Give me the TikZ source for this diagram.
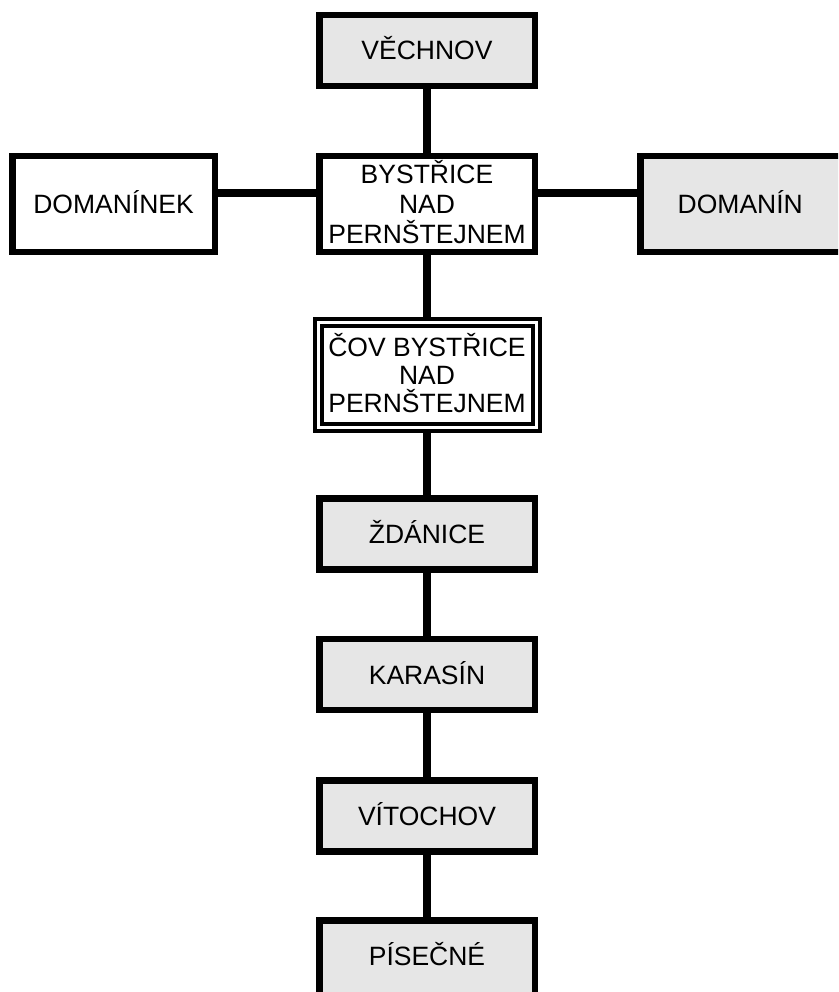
\documentclass[tikz,border=0pt]{standalone}
\usepackage{fontspec}
\setmainfont{Liberation Sans}
\definecolor{boxgray}{HTML}{E6E6E6}
\begin{document}
\begin{tikzpicture}[x=1pt,y=-1pt,
  box/.style={draw=black, line width=6.5pt, inner sep=0pt, align=center,
    font=\fontsize{26.5}{30}\selectfont, text height=19pt, text depth=0pt,
    minimum width=215.5pt, minimum height=71pt},
  graybox/.style={box, fill=boxgray},
  whitebox/.style={box, fill=white},
  link/.style={line width=8pt, draw=black}]
\useasboundingbox (0,0) rectangle (838,992);
\clip (0,0) rectangle (838,992);
\fill[white] (0,0) rectangle (838,992);

\node[graybox] (vech) at (427,50.5) {VĚCHNOV};
\node[whitebox, minimum height=95.5pt, text height=79pt] (bys) at (427,204) {BYSTŘICE\\NAD\\PERNŠTEJNEM};
\node[whitebox, minimum width=202.5pt, minimum height=95.5pt] (domk) at (113.5,204) {DOMANÍNEK};
\node[graybox, minimum width=220pt, minimum height=95.5pt] (domn) at (750.25,204) {DOMANÍN\hspace*{20pt}};
\node[whitebox, line width=4pt, double=white, double distance=3pt,
      minimum width=218pt, minimum height=105pt,
      font=\fontsize{26.5}{28}\selectfont, text height=75pt] (cov) at (427,375) {ČOV BYSTŘICE\\NAD\\PERNŠTEJNEM};
\node[graybox] (zdan) at (427,534) {ŽDÁNICE};
\node[graybox] (kar) at (427,674.5) {KARASÍN};
\node[graybox] (vit) at (427,816) {VÍTOCHOV};
\node[graybox, minimum height=90pt, text depth=18pt] (pis) at (427,965.25) {PÍSEČNÉ};

\draw[link] (vech) -- (bys);
\draw[link] (bys) -- (cov);
\draw[link] (cov) -- (zdan);
\draw[link] (zdan) -- (kar);
\draw[link] (kar) -- (vit);
\draw[link] (vit) -- (pis);
\draw[link] ([yshift=11pt]domk.east) -- ([yshift=11pt]bys.west);
\draw[link] ([yshift=11pt]bys.east) -- ([yshift=11pt]domn.west);
\end{tikzpicture}
\end{document}
